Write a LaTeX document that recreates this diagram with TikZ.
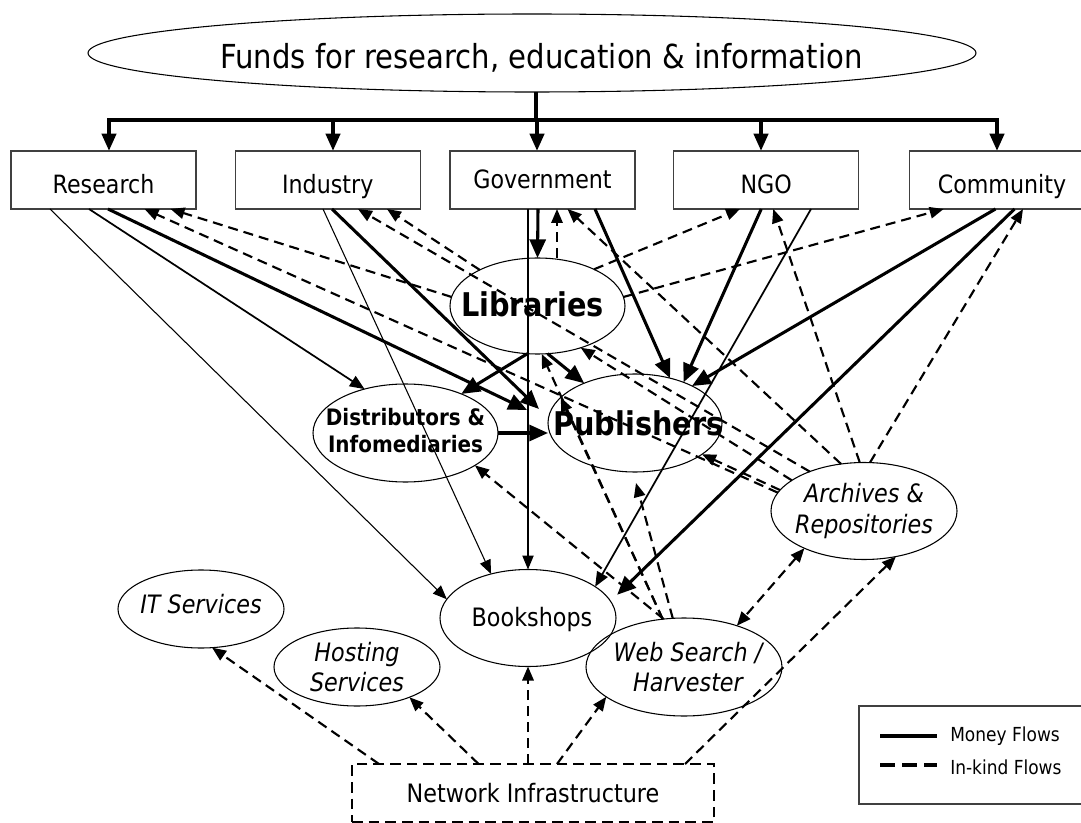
\documentclass[tikz,border=0pt]{standalone}
\usepackage{fontspec}
\setmainfont{DejaVu Sans}[FakeStretch=0.88]
\usetikzlibrary{arrows.meta,shapes.geometric}
\tikzset{
  ArrS/.tip={Triangle[length=10.5pt,width=8.5pt]},
  ArrM/.tip={Triangle[length=11pt,width=9pt]},
  ArrB/.tip={Triangle[length=14pt,width=12pt]},
  ArrT/.tip={Triangle[length=13pt,width=10.5pt]},
  box/.style={draw=black!75, line width=0.9pt, rectangle, minimum width=138.75pt,
    minimum height=43.5pt, inner sep=0pt, outer sep=0pt,
    font=\fontsize{18.9}{22}\selectfont, text height=19.8pt, text depth=0pt},
  ell/.style={draw, line width=0.8pt, ellipse, inner sep=0pt, outer sep=0pt},
  rtx/.style={font=\fontsize{19}{22.5}\selectfont, align=center, inner sep=0pt},
  itx/.style={font=\fontsize{19}{23}\selectfont\itshape, align=center, inner sep=0pt},
  bgx/.style={font=\fontsize{24.5}{28}\selectfont\bfseries, inner sep=0pt},
  dtx/.style={font=\fontsize{17}{20.25}\selectfont\bfseries, align=center, inner sep=0pt},
  mthick/.style={line width=2.3pt, -ArrB},
  mthin/.style={line width=0.8pt, -ArrS},
  mmed/.style={line width=1.3pt, -ArrM},
  ik/.style={line width=1.6pt, dash pattern=on 7.5pt off 4.5pt, -ArrS},
  tree/.style={line width=3pt},
  treearrow/.style={line width=3pt, -ArrT},
}
\begin{document}
\begin{tikzpicture}[x=0.75pt,y=-0.75pt]
\useasboundingbox (0,0) rectangle (1081,823);

% ---- nodes ----
\node[ell, minimum width=666pt, minimum height=58.5pt,
  label={[font=\fontsize{24.8}{28}\selectfont, inner sep=0pt, xshift=7pt, yshift=-3.4pt]center:{Funds for research, education \& information}}]
  (funds) at (532,53) {};

\node[box] (res) at (103.5,180) {Research};
\node[box] (ind) at (327.75,180) {Industry};
\node[box, text height=12.3pt] (gov) at (542.5,180) {Government};
\node[box] (ngo) at (766.25,180) {NGO};
\node[box] (com) at (1002,180) {Community};

\node[ell, minimum width=131.25pt, minimum height=72pt,
  label={[bgx, xshift=-3.75pt, yshift=1pt]center:Libraries}] (lib) at (537.5,306) {};
\node[ell, minimum width=130.5pt, minimum height=73.5pt,
  label={[bgx, xshift=2.6pt]center:Publishers}] (pub) at (635,423) {};
\node[ell, minimum width=138.75pt, minimum height=73.5pt,
  label={[dtx, yshift=1.5pt]center:{Distributors \&\\Infomediaries}}] (dis) at (405.5,433) {};
\node[ell, minimum width=132pt, minimum height=72.75pt,
  label={[rtx, xshift=3pt, yshift=-1pt]center:Bookshops}] (book) at (528,618) {};
\node[ell, minimum width=147pt, minimum height=73.5pt,
  label={[itx, xshift=3pt]center:{Web Search /\\Harvester}}] (web) at (684,667) {};
\node[ell, minimum width=139.5pt, minimum height=72.75pt,
  label={[itx]center:{Archives \&\\Repositories}}] (arch) at (864,511) {};
\node[ell, minimum width=124.5pt, minimum height=58.5pt,
  label={[itx, yshift=3.5pt]center:IT Services}] (it) at (201,609) {};
\node[ell, minimum width=124.5pt, minimum height=58.5pt,
  label={[itx]center:{Hosting\\Services}}] (host) at (357,667) {};

\node[draw, line width=2pt, dash pattern=on 8pt off 4.5pt, rectangle,
  minimum width=271.5pt, minimum height=43.5pt, inner sep=0pt, outer sep=0pt,
  font=\fontsize{19}{22.5}\selectfont] (net) at (533,793) {Network Infrastructure};

\node[draw=black!75, line width=0.9pt, rectangle, minimum width=173.25pt,
  minimum height=73.5pt, inner sep=0pt, outer sep=0pt] (legend) at (974.5,755) {};
\node[anchor=base west, inner sep=0pt, font=\fontsize{14.5}{17}\selectfont] (lgm) at (950,741) {Money Flows};
\node[anchor=base west, inner sep=0pt, font=\fontsize{14.5}{17}\selectfont] (lgk) at (950,774.5) {In-kind Flows};
\coordinate (lm1) at (880,736);
\coordinate (lm2) at (937,736);
\coordinate (lk1) at (880,765);
\coordinate (lk2) at (937,765);
\draw[line width=3pt] (lm1) -- (lm2);
\draw[line width=3pt, dash pattern=on 11pt off 5.5pt] (lk1) -- (lk2);

% ---- funding tree ----
\coordinate (tb) at (536,120);
\coordinate (d1) at (109,120);
\coordinate (d2) at (333,120);
\coordinate (d3) at (537,120);
\coordinate (d4) at (761,120);
\coordinate (d5) at (997,120);
\draw[tree] (funds.south -| tb) -- (tb);
\draw[tree, line cap=rect] (d1) -- (d5);
\draw[treearrow] (d1) -- (d1 |- res.north);
\draw[treearrow] (d2) -- (d2 |- ind.north);
\draw[treearrow] (d3) -- (d3 |- gov.north);
\draw[treearrow] (d4) -- (d4 |- ngo.north);
\draw[treearrow] (d5) -- (d5 |- com.north);

% ---- money flows ----
\draw[mthick] ([shift={(-4.5,0)}]gov.south) -- (lib.north);
\draw[mthick] ([shift={(4.5,0)}]res.south) -- ([shift={(-21,-13)}]pub.west);
\draw[mthick] ([shift={(4.25,0)}]ind.south) -- ([shift={(-9,-14)}]pub.west);
\draw[mthick] ([shift={(52.5,0)}]gov.south) -- (pub.52);
\draw[mthick] ([shift={(-5,0)}]ngo.south) -- (pub.40);
\draw[mthick] ([shift={(-6.5,0)}]com.south) -- (pub.33);
\draw[mthick] ([shift={(12.5,0)}]com.south) -- ([shift={(10,-2)}]book.15);
\draw[mthick] (lib.258) -- (dis.35);
\draw[mthick] (lib.282) -- (pub.142);
\draw[mthick] (dis.east) -- (dis.east -| pub.west);

\draw[mthin] ([shift={(-53.5,0)}]res.south) -- (book.167);
\draw[mthin] ([shift={(-4.75,0)}]ind.south) -- (book.130);
\draw[mthin] (book.north |- gov.south) -- (book.north);
\draw[mmed] ([shift={(44.75,0)}]ngo.south) -- (book.25);
\draw[mmed] ([shift={(-14.5,0)}]res.south) -- (dis.133);

% ---- in-kind flows ----
\draw[ik] (lib.174) -- ([shift={(67,0)}]res.south);
\draw[ik] (arch.168) -- ([shift={(41,0)}]res.south);
\draw[ik] (lib.148.5) -- ([shift={(59.25,0)}]ind.south);
\draw[ik] (arch.144) -- ([shift={(30.25,0)}]ind.south);
\draw[ik] (arch.157) -- (lib.316);
\draw[ik] ([shift={(19.5,0)}]lib.north) -- ([shift={(14.5,0)}]gov.south);
\draw[ik] (lib.33.5) -- ([shift={(-26.25,0)}]ngo.south);
\draw[ik] (lib.6) -- ([shift={(-58.3,0)}]com.south);
\draw[ik] (arch.116.6) -- ([shift={(25,0)}]gov.south);
\draw[ik] (arch.95) -- ([shift={(7,0)}]ngo.south);
\draw[ik] (arch.83) -- ([shift={(21,0)}]com.south);
\draw[ik] (arch.166) -- (pub.335);
\draw[ik] (web.113) -- (dis.335);
\draw[ik] (web.114) -- (lib.275);
\draw[ik] (web.114) -- (pub.161.6);
\draw[ik] (web.103.5) -- ([shift={(1,11)}]pub.south);
\draw[ik, ArrS-ArrS] (arch.212) -- (web.38);

\draw[ik] ([shift={(-154,0)}]net.north) -- (it.286);
\draw[ik] ([shift={(-54.4,0)}]net.north) -- (host.330);
\draw[ik] (book.south |- net.north) -- (book.south);
\draw[ik] ([shift={(24,0)}]net.north) -- (web.201);
\draw[ik] ([shift={(152,0)}]net.north) -- (arch.305);
\end{tikzpicture}
\end{document}
